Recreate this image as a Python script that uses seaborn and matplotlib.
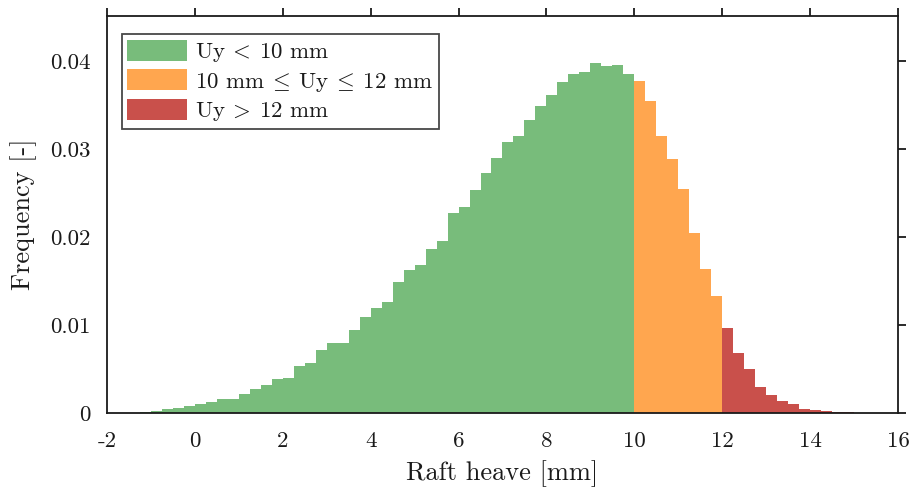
import numpy as np
import pandas as pd
import matplotlib
matplotlib.use("Agg")
import matplotlib.pyplot as plt
import seaborn as sns
from matplotlib.patches import Patch

# ---- data ----
bin_start, bin_stop, bin_width = -2.0, 16.0, 0.25
freq_m2_0 = [0.00001, 0.00002, 0.00004, 0.00008, 0.00018, 0.0004, 0.0006, 0.0008]
freq_0_2 = [0.0010, 0.0012, 0.0016, 0.0016, 0.0021, 0.0027, 0.0032, 0.0039]
freq_2_4 = [0.0040, 0.0053, 0.0057, 0.0072, 0.0080, 0.0080, 0.0094, 0.0109]
freq_4_6 = [0.0119, 0.0126, 0.0149, 0.0162, 0.0168, 0.0186, 0.0195, 0.0227]
freq_6_8 = [0.0234, 0.0253, 0.0273, 0.0290, 0.0308, 0.0315, 0.0333, 0.0349]
freq_8_10 = [0.0361, 0.0376, 0.0385, 0.0387, 0.0398, 0.0394, 0.0395, 0.0385]
freq_10_12 = [0.0377, 0.0354, 0.0315, 0.0288, 0.0255, 0.0205, 0.0164, 0.0133]
freq_12_14 = [0.0096, 0.0068, 0.0050, 0.0030, 0.0020, 0.0014, 0.0010, 0.0005]
freq_14_16 = [0.0003, 0.0002, 0.0001, 0.00006, 0.00003, 0.00001, 0.0, 0.0]

category_labels = [r"Uy$\:<\:$10 mm", r"10 mm$\:\leq\:$Uy$\:\leq\:$12 mm", r"Uy$\:>\:$12 mm"]
category_colors = ["#78bc7b", "#ffa64f", "#c9504b"]
x_ticks = [-2, 0, 2, 4, 6, 8, 10, 12, 14, 16]
y_ticks = [0, 0.01, 0.02, 0.03, 0.04]
y_tick_labels = ["0", "0.01", "0.02", "0.03", "0.04"]

freq = np.array(freq_m2_0 + freq_0_2 + freq_2_4 + freq_4_6 + freq_6_8
                + freq_8_10 + freq_10_12 + freq_12_14 + freq_14_16)
n_bins = len(freq)
centers = bin_start + bin_width * (np.arange(n_bins) + 0.5)
cat = np.where(centers < 10, category_labels[0],
               np.where(centers < 12, category_labels[1], category_labels[2]))
df = pd.DataFrame({"heave": centers, "freq": freq, "cat": cat})

# ---- style ----
sns.set_style("white")
plt.rcParams["font.family"] = ["cmr10", "DejaVu Serif"]
plt.rcParams["mathtext.fontset"] = "cm"
plt.rcParams["axes.unicode_minus"] = False
plt.rcParams["axes.formatter.use_mathtext"] = True

ink = "#1a1a1a"
fig = plt.figure(figsize=(9.16, 4.92), dpi=100)
ax = fig.add_axes([0.1168, 0.1606, 0.8635, 0.8069])

sns.histplot(data=df, x="heave", weights="freq", binwidth=bin_width,
             binrange=(bin_start, bin_stop), hue="cat",
             hue_order=category_labels, palette=dict(zip(category_labels, category_colors)),
             multiple="layer", alpha=1.0, linewidth=0, element="bars",
             stat="count", legend=False, ax=ax)

ax.set_xlim(-2, 16)
ax.set_ylim(0, 0.0451)
ax.set_xticks(x_ticks)
ax.set_xticklabels([str(t) for t in x_ticks])
ax.set_yticks(y_ticks)
ax.set_yticklabels(y_tick_labels)
ax.tick_params(direction="out", length=6, width=1.3, top=True, right=True,
               labelsize=16.5, colors=ink)
ax.tick_params(axis="x", pad=7)
ax.tick_params(axis="y", pad=6)
ax.set_xlabel("Raft heave [mm]", fontsize=19, color=ink, labelpad=7)
ax.set_ylabel("Frequency [-]", fontsize=19, color=ink, labelpad=9)
for s in ax.spines.values():
    s.set_visible(True)
    s.set_color(ink)
    s.set_linewidth(1.3)

handles = [Patch(facecolor=c, edgecolor="none", label=l)
           for c, l in zip(category_colors, category_labels)]
leg = ax.legend(handles=handles, loc="upper left", bbox_to_anchor=(0.0185, 0.955),
                fontsize=16.5, frameon=True, fancybox=False, handlelength=2.6,
                handleheight=1.05, handletextpad=0.35, borderpad=0.25,
                labelspacing=0.22, borderaxespad=0)
leg.get_frame().set_edgecolor(ink)
leg.get_frame().set_linewidth(1.3)
for t in leg.get_texts():
    t.set_color(ink)

fig.savefig("out.png", dpi=100, facecolor="white")
